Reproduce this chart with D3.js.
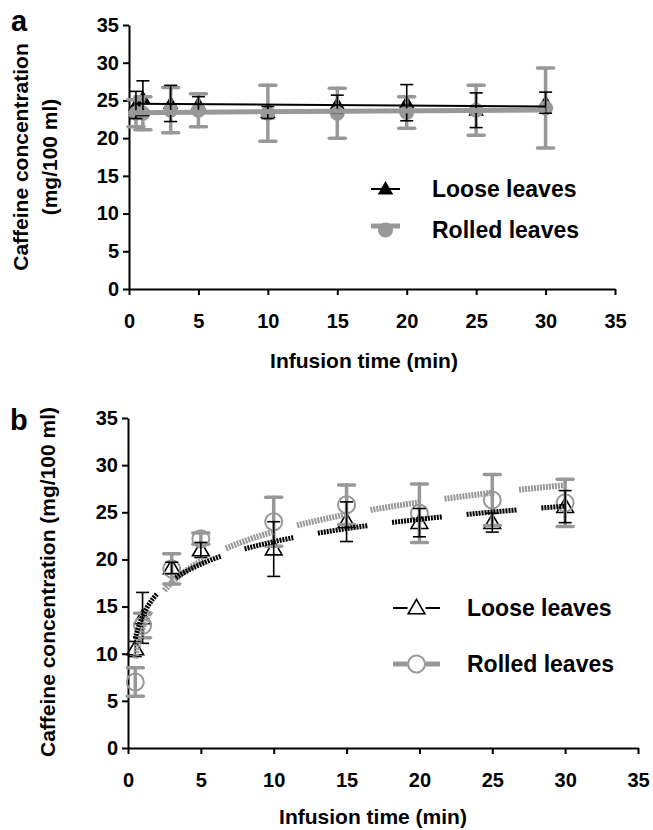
<!DOCTYPE html>
<html>
<head>
<meta charset="utf-8">
<script src="https://cdn.jsdelivr.net/npm/d3@7"></script>
<style>
  body { margin: 0; background: #fff; }
  text { font-family: "Liberation Sans", Arial, sans-serif; font-weight: bold; fill: #000; }
</style>
</head>
<body>
<script>
// infusion times (min)
var times = [0.5, 1, 3, 5, 10, 15, 20, 25, 30];
var xTicks = [0, 5, 10, 15, 20, 25, 30, 35];
var yTicks = [0, 5, 10, 15, 20, 25, 30, 35];
var seriesNames = ["Loose leaves", "Rolled leaves"];

// panel a
var looseA     = [24.4, 25.3, 24.6, 24.5, 23.4, 24.5, 24.7, 23.7, 24.7];
var looseAErr  = [1.8, 2.3, 2.4, 1.0, 0.8, 1.2, 2.4, 2.3, 1.4];
var rolledA    = [23.3, 23.3, 23.7, 23.7, 23.3, 23.3, 23.4, 23.7, 24.0];
var rolledAErr = [1.8, 2.2, 3.0, 2.2, 3.7, 3.3, 2.1, 3.3, 5.3];

// panel b
var looseB     = [10.5, 13.8, 19.1, 21.0, 21.1, 24.0, 23.9, 23.9, 25.6];
var looseBErr  = [0.8, 2.7, 0.6, 0.8, 2.9, 2.1, 1.5, 1.0, 1.7];
var rolledB    = [7.0, 13.0, 19.0, 22.2, 24.0, 25.8, 24.9, 26.3, 26.0];
var rolledBErr = [1.5, 1.3, 1.6, 0.6, 2.6, 2.1, 3.1, 2.7, 2.5];

var grey = "#989898";
var W = 653, H = 830;

var svg = d3.select("body").append("svg")
  .attr("width", W)
  .attr("height", H);

// least squares fit, optionally on ln(x)
function fit(xs, ys, useLog) {
  var tx = xs.map(function(d) { return useLog ? Math.log(d) : d; });
  var mx = d3.mean(tx), my = d3.mean(ys);
  var sxy = d3.sum(tx, function(d, i) { return (d - mx) * (ys[i] - my); });
  var sxx = d3.sum(tx, function(d) { return (d - mx) * (d - mx); });
  var a = sxy / sxx, b = my - a * mx;
  return function(x) { return a * (useLog ? Math.log(x) : x) + b; };
}

// striped long dash used for the log trend lines
var hatch = d3.range(16).map(function() { return "2,1"; }).join(",") + ",2,25";

var panels = [
  { label: "a", xr: [129, 615], yr: [289, 25], filled: true, logFit: false,
    loose: looseA, looseErr: looseAErr, rolled: rolledA, rolledErr: rolledAErr,
    labelPos: [11, 31], xTitle: [364, 368],
    yTitle: [{ x: 28, y: 157, t: "Caffeine concentration" }, { x: 57, y: 157, t: "(mg/100 ml)" }],
    legend: { x1: 371, x2: 400, tx: 432, ys: [189, 230] } },
  { label: "b", xr: [128, 638], yr: [748, 418], filled: false, logFit: true,
    loose: looseB, looseErr: looseBErr, rolled: rolledB, rolledErr: rolledBErr,
    labelPos: [10, 430], xTitle: [373, 824],
    yTitle: [{ x: 55, y: 582, t: "Caffeine concentration (mg/100 ml)" }],
    legend: { x1: 393, x2: 440, tx: 467, ys: [608, 664] } }
];

var tri = d3.symbol().type(d3.symbolTriangle);

panels.forEach(function(p) {
  var x = d3.scaleLinear().domain([0, 35]).range(p.xr);
  var y = d3.scaleLinear().domain([0, 35]).range(p.yr);
  var g = svg.append("g");

  // axes
  var gx = g.append("g")
    .attr("transform", "translate(0," + p.yr[0] + ")")
    .call(d3.axisBottom(x).tickValues(xTicks).tickSize(6).tickSizeOuter(0).tickPadding(19));
  var gy = g.append("g")
    .attr("transform", "translate(" + p.xr[0] + ",0)")
    .call(d3.axisLeft(y).tickValues(yTicks).tickSize(6).tickSizeOuter(0).tickPadding(4));
  [gx, gy].forEach(function(a) {
    a.select(".domain").attr("stroke", "#000").attr("stroke-width", 2);
    a.selectAll(".tick line").attr("stroke", "#000").attr("stroke-width", 2);
    a.selectAll(".tick text")
      .attr("font-size", 20)
      .attr("font-family", "Liberation Sans, Arial, sans-serif")
      .attr("font-weight", "bold")
      .attr("fill", "#000");
  });

  // titles
  g.append("text").attr("x", p.labelPos[0]).attr("y", p.labelPos[1])
    .attr("font-size", 29).text(p.label);
  g.append("text").attr("x", p.xTitle[0]).attr("y", p.xTitle[1])
    .attr("text-anchor", "middle").attr("font-size", 21)
    .text("Infusion time (min)");
  p.yTitle.forEach(function(t) {
    g.append("text")
      .attr("transform", "translate(" + t.x + "," + t.y + ") rotate(-90)")
      .attr("text-anchor", "middle").attr("font-size", 21)
      .text(t.t);
  });

  var series = [
    { name: seriesNames[0], vals: p.loose, err: p.looseErr, color: "#000", sw: 1.6, cap: 13 },
    { name: seriesNames[1], vals: p.rolled, err: p.rolledErr, color: grey, sw: 3.5, cap: 16 }
  ];

  function marker(sel, s, cx, cy) {
    if (s.name === seriesNames[0]) {
      sel.append("path")
        .attr("d", tri.size(p.filled ? 105 : 120)())
        .attr("transform", "translate(" + cx + "," + (cy + 1) + ")")
        .attr("fill", p.filled ? "#000" : "none")
        .attr("stroke", "#000")
        .attr("stroke-width", p.filled ? 0 : 1.6);
    } else {
      sel.append("circle")
        .attr("cx", cx).attr("cy", cy)
        .attr("r", p.filled ? 7.5 : 8.5)
        .attr("fill", p.filled ? grey : "none")
        .attr("stroke", grey)
        .attr("stroke-width", p.filled ? 0 : 2);
    }
  }

  // markers
  series.forEach(function(s) {
    var mg = g.append("g");
    times.forEach(function(t, i) { marker(mg, s, x(t), y(s.vals[i])); });
  });

  // error bars (rolled first, loose on top)
  series.slice().reverse().forEach(function(s) {
    var eg = g.append("g").attr("stroke", s.color).attr("stroke-width", s.sw)
      .attr("stroke-linecap", s.color === grey ? "round" : "butt");
    times.forEach(function(t, i) {
      var cx = x(t), hi = y(s.vals[i] + s.err[i]), lo = y(s.vals[i] - s.err[i]);
      eg.append("line").attr("x1", cx).attr("x2", cx).attr("y1", hi).attr("y2", lo);
      [hi, lo].forEach(function(yy) {
        eg.append("line").attr("x1", cx - s.cap / 2).attr("x2", cx + s.cap / 2)
          .attr("y1", yy).attr("y2", yy);
      });
    });
  });

  // trend lines
  series.slice().reverse().forEach(function(s) {
    var f = fit(times, s.vals, p.logFit);
    var xs = p.logFit ? d3.range(0.5, 30.01, 0.1) : [0.4, 30];
    var line = d3.line().x(function(d) { return x(d); }).y(function(d) { return y(f(d)); });
    var path = g.append("path").datum(xs).attr("d", line)
      .attr("fill", "none").attr("stroke", s.color);
    if (p.logFit) {
      path.attr("stroke-width", s.color === grey ? 6 : 5).attr("stroke-dasharray", hatch);
    } else {
      path.attr("stroke-width", s.color === grey ? 5 : 2);
    }
  });

  // legend
  var L = p.legend;
  series.forEach(function(s, i) {
    var ly = L.ys[i];
    var lineY = (p.filled && i === 1) ? ly - 4 : ly;
    g.append("line").attr("x1", L.x1).attr("x2", L.x2).attr("y1", lineY).attr("y2", lineY)
      .attr("stroke", s.color).attr("stroke-width", i === 0 ? 2 : 5);
    if (!p.filled) {
      g.append("rect").attr("x", (L.x1 + L.x2) / 2 - 9).attr("y", ly - 9)
        .attr("width", 18).attr("height", 18).attr("fill", "#fff");
    }
    marker(g, s, (L.x1 + L.x2) / 2, ly);
    g.append("text").attr("x", L.tx).attr("y", ly + 8)
      .attr("font-size", 23).text(s.name);
  });
});
</script>
</body>
</html>
